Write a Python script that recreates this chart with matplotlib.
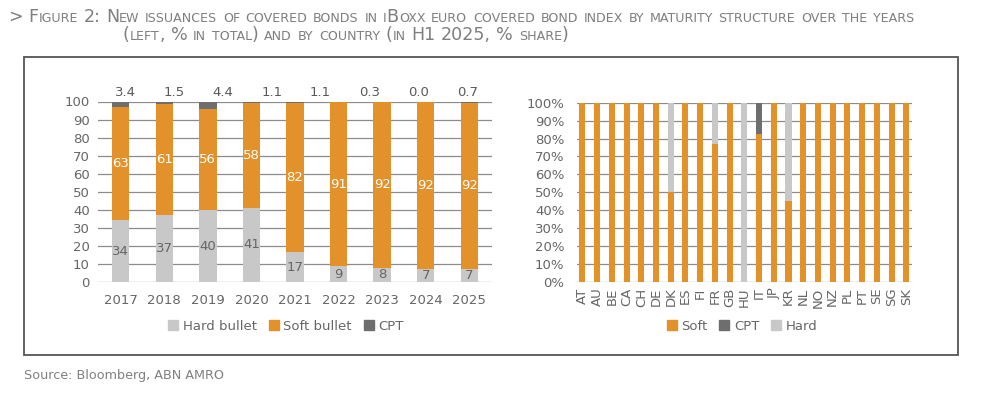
import numpy as np
import matplotlib
matplotlib.use("Agg")
import matplotlib.pyplot as plt
from matplotlib.patches import Patch, Rectangle

# ---------------- data ----------------
years = ["2017", "2018", "2019", "2020", "2021", "2022", "2023", "2024", "2025"]
hard_bullet = [34.2, 37.3, 39.7, 41.0, 16.6, 8.8, 7.9, 7.3, 7.2]
soft_bullet = [62.6, 61.2, 55.9, 57.9, 82.3, 90.9, 91.8, 92.3, 92.1]
cpt = [3.4, 1.5, 4.4, 1.1, 1.1, 0.3, 0.3, 0.7, 0.7]
cpt_labels = ["3.4", "1.5", "4.4", "1.1", "1.1", "0.3", "0.0", "0.7"]

countries = ["AT", "AU", "BE", "CA", "CH", "DE", "DK", "ES", "FI", "FR", "GB",
             "HU", "IT", "JP", "KR", "NL", "NO", "NZ", "PL", "PT", "SE", "SG", "SK"]
soft_c = [100, 100, 100, 100, 100, 100, 50, 100, 100, 77, 100,
          0, 82.7, 100, 44.9, 100, 100, 100, 100, 100, 100, 100, 100]
cpt_c = [0, 0, 0, 0, 0, 0, 0, 0, 0, 0, 0,
         0, 17.3, 0, 0, 0, 0, 0, 0, 0, 0, 0, 0]
hard_c = [0, 0, 0, 0, 0, 0, 50, 0, 0, 23, 0,
          100, 0, 0, 55.1, 0, 0, 0, 0, 0, 0, 0, 0]

# ---------------- style ----------------
ORANGE = "#E3912B"
LGRAY = "#C8C8C8"
DGRAY = "#6E6E6E"
TXT = "#666666"
GRID = "#8C8C8C"
W, H = 990, 394
plt.rcParams["font.family"] = ["DejaVu Sans"]

fig = plt.figure(figsize=(W / 100, H / 100), dpi=100)


def fx(px):
    return px / W


def fy(py):
    return 1 - py / H


# frame box
fig.patches.append(Rectangle((fx(24), fy(355)), fx(958) - fx(24), fy(57) - fy(355),
                             transform=fig.transFigure, fill=False,
                             edgecolor="#555555", lw=1.3))

# ---------------- title in small caps ----------------
renderer = fig.canvas.get_renderer()
TFAM = ["DejaVu Sans"]
TCOL = "#7F7F7F"


def smallcaps(x, y, s, size):
    small = size * 0.72
    t1 = fig.text(0, 0, "xx", fontsize=size, family=TFAM)
    t2 = fig.text(0, 0, "x x", fontsize=size, family=TFAM)
    sp = t2.get_window_extent(renderer).width - t1.get_window_extent(renderer).width
    t1.remove(); t2.remove()
    runs = []
    for ch in s:
        kind = "sp" if ch == " " else ("s" if ch.islower() else "b")
        if runs and runs[-1][1] == kind:
            runs[-1][0] += ch
        else:
            runs.append([ch, kind])
    for txt, kind in runs:
        if kind == "sp":
            x += sp * len(txt)
            continue
        fs = small if kind == "s" else size
        t = fig.text(fx(x), fy(y), txt.upper(), fontsize=fs, family=TFAM,
                     color=TCOL, va="baseline", ha="left")
        x += t.get_window_extent(renderer).width


smallcaps(8, 21.5, "> Figure 2: New issuances of covered bonds in iBoxx euro covered bond "
          "index by maturity structure over the years", 12.6)
smallcaps(123, 40, "(left, % in total) and by country (in H1 2025, % share)", 12.6)

fig.text(fx(24), fy(379), "Source: Bloomberg, ABN AMRO", fontsize=9.2, color="#808080",
         va="baseline", ha="left")

# ---------------- left chart ----------------
ax1 = fig.add_axes([fx(98), fy(282), fx(492) - fx(98), fy(101.5) - fy(282)])
x = np.arange(len(years))
bw = 0.4
ax1.bar(x, hard_bullet, bw, color=LGRAY, zorder=2)
ax1.bar(x, soft_bullet, bw, bottom=hard_bullet, color=ORANGE, zorder=2)
ax1.bar(x, cpt, bw, bottom=np.array(hard_bullet) + np.array(soft_bullet),
        color=DGRAY, zorder=2)
for i in range(len(years)):
    ax1.text(x[i], hard_bullet[i] / 2, f"{hard_bullet[i]:.0f}", ha="center", va="center",
             fontsize=9.5, color="#666666", zorder=3)
    ax1.text(x[i], hard_bullet[i] + soft_bullet[i] / 2, f"{soft_bullet[i]:.0f}",
             ha="center", va="center", fontsize=9.5, color="white", zorder=3)
for xp, lab in zip(np.linspace(0.069, 0.937, len(cpt_labels)), cpt_labels):
    ax1.text(xp, 1.048, lab, transform=ax1.transAxes, ha="center", va="center",
             fontsize=9.5, color="#595959")
ax1.set_xlim(-0.52, 8.52)
ax1.set_ylim(0, 100)
ax1.set_yticks(np.arange(0, 101, 10))
ax1.set_xticks(x)
ax1.set_xticklabels(years)
ax1.tick_params(axis="both", length=0, labelsize=9.5, labelcolor=TXT)
ax1.tick_params(axis="x", pad=9)
ax1.tick_params(axis="y", pad=6)
ax1.grid(axis="y", color=GRID, lw=0.9, zorder=0)
ax1.set_axisbelow(True)
for s in ax1.spines.values():
    s.set_visible(False)

fig.legend(handles=[Patch(color=LGRAY, label="Hard bullet"),
                    Patch(color=ORANGE, label="Soft bullet"),
                    Patch(color=DGRAY, label="CPT")],
           loc="center", bbox_to_anchor=(fx(286), fy(326)), ncol=3, frameon=False,
           fontsize=9.5, handlelength=0.75, handleheight=0.75, handletextpad=0.35,
           columnspacing=0.9, labelcolor=TXT)

# ---------------- right chart ----------------
ax2 = fig.add_axes([fx(577), fy(282), fx(912) - fx(577), fy(102.7) - fy(282)])
xc = np.arange(len(countries))
bw2 = 0.41
ax2.bar(xc, soft_c, bw2, color=ORANGE, zorder=2)
ax2.bar(xc, cpt_c, bw2, bottom=soft_c, color=DGRAY, zorder=2)
ax2.bar(xc, hard_c, bw2, bottom=np.array(soft_c) + np.array(cpt_c), color=LGRAY, zorder=2)
ax2.set_xlim(-0.37, len(countries) - 1 + 0.39)
ax2.set_ylim(0, 100)
ax2.set_yticks(np.arange(0, 101, 10))
ax2.set_yticklabels([f"{v}%" for v in range(0, 101, 10)])
ax2.set_xticks(xc)
ax2.set_xticklabels(countries, rotation=90)
ax2.tick_params(axis="both", length=0, labelsize=9.5, labelcolor=TXT)
ax2.tick_params(axis="x", pad=4)
ax2.tick_params(axis="y", pad=9)
ax2.grid(axis="y", color=GRID, lw=0.9, zorder=0)
ax2.set_axisbelow(True)
for s in ax2.spines.values():
    s.set_visible(False)

fig.legend(handles=[Patch(color=ORANGE, label="Soft"),
                    Patch(color=DGRAY, label="CPT"),
                    Patch(color=LGRAY, label="Hard")],
           loc="center", bbox_to_anchor=(fx(742), fy(326)), ncol=3, frameon=False,
           fontsize=9.5, handlelength=0.75, handleheight=0.75, handletextpad=0.35,
           columnspacing=0.9, labelcolor=TXT)

fig.savefig("out.png", dpi=100)
